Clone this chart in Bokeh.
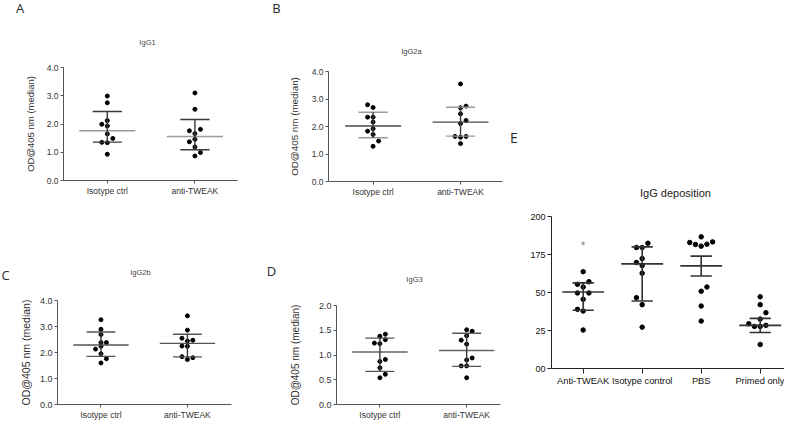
from bokeh.plotting import figure
from bokeh.layouts import row, column
from bokeh.models import Range1d, FixedTicker, Label, NumeralTickFormatter
from bokeh.core.properties import value
from bokeh.embed import file_html
from bokeh.resources import INLINE

# ------------------------------------------------------------------ data
groups_ad = ["Isotype ctrl", "anti-TWEAK"]
groups_e = ["Anti-TWEAK", "Isotype control", "PBS", "Primed only"]

# A  IgG1
igg1_iso = [2.99, 2.75, 2.12, 1.99, 1.93, 1.65, 1.49, 1.35, 1.34, 0.93]
igg1_anti = [3.10, 2.52, 1.76, 1.81, 1.66, 1.46, 1.37, 1.19, 0.99, 0.87]
igg1_center = [1.76, 1.56]
igg1_upper = [2.44, 2.16]
igg1_lower = [1.36, 1.09]
igg1_iso_cols = [0, 0, 0, -1, 0, 0, 1, -1, 0, 0]
igg1_anti_cols = [0, 0, -1, 1, 0, 0, -1, 0, 1, 0]

# B  IgG2a
igg2a_iso = [2.79, 2.69, 2.34, 2.34, 2.16, 1.92, 1.83, 1.71, 1.47, 1.28]
igg2a_anti = [3.55, 2.74, 2.68, 2.46, 2.22, 2.11, 1.64, 1.61, 1.64, 1.38]
igg2a_center = [2.02, 2.16]
igg2a_upper = [2.52, 2.70]
igg2a_lower = [1.59, 1.65]
igg2a_iso_cols = [-1, 0, -1, 0, 0, 0, -1, 0, 1, 0]
igg2a_anti_cols = [0, 1, 0, 0, 1, 0, -1, 0, 1, 0]

# C  IgG2b
igg2b_iso = [3.26, 2.89, 2.69, 2.38, 2.38, 2.24, 2.13, 1.95, 1.76, 1.60]
igg2b_anti = [3.41, 2.86, 2.55, 2.47, 2.44, 2.25, 2.24, 1.84, 1.80, 1.73]
igg2b_center = [2.29, 2.35]
igg2b_upper = [2.79, 2.70]
igg2b_lower = [1.85, 1.83]
igg2b_iso_cols = [0, 0, 0, 0, 1, 0, -1, 0, 1, 0]
igg2b_anti_cols = [0, 0, -1, 1, 0, -1, 0, -1, 1, 0]

# D  IgG3
igg3_iso = [1.42, 1.38, 1.31, 1.24, 1.23, 0.91, 0.87, 0.74, 0.61, 0.54]
igg3_anti = [1.51, 1.48, 1.39, 1.30, 1.22, 0.94, 0.90, 0.78, 0.78, 0.54]
igg3_center = [1.06, 1.09]
igg3_upper = [1.34, 1.44]
igg3_lower = [0.67, 0.77]
igg3_iso_cols = [1, 0, 1, -1, 0, 1, 0, 0, 1, 0]
igg3_anti_cols = [0, 1, 0, -1, 0, 1, 0, -1, 0, 0]

# E  IgG deposition
dep_anti = [163.7, 155.4, 157.1, 153.6, 149.7, 149.7, 145.5, 138.9, 137.8, 125.3]
dep_iso = [182.4, 179.6, 179.6, 172.3, 169.7, 167.7, 162.7, 146.6, 142.0, 127.2]
dep_pbs = [186.6, 182.9, 181.6, 180.5, 181.8, 183.3, 153.6, 150.8, 141.1, 131.2]
dep_primed = [147.2, 142.0, 136.7, 132.5, 129.4, 127.7, 127.7, 128.4, 115.8]
dep_center = [150.3, 168.8, 167.5, 128.4]
dep_upper = [156.3, 180.0, 173.9, 133.0]
dep_lower = [138.3, 144.4, 160.9, 123.7]
dep_anti_cols = [0, -1, 1, 0, -1, 1, 0, -1, 0, 0]
dep_iso_cols = [1, -1, 0, 0, -1, 0, 0, -1, 0, 0]
dep_pbs_cols = [0, -2, -1, 0, 1, 2, 1, 0, 0, 0]
dep_primed_cols = [0, 0, 1, 0, -2, -1, 0, 1, 0]
dep_sig_group = ["Anti-TWEAK"]
dep_sig_y = [180.7]
dep_sig_text = ["*"]

od_ticks_4 = [0, 1, 2, 3, 4]
od_ticks_2 = [0, 0.5, 1.0, 1.5, 2.0]
dep_tick_values = [100, 125, 150, 175, 200]
dep_tick_labels = ["00", "25", "50", "175", "200"]
y_title = "OD@405 nm (median)"
panel_titles = ["IgG1", "IgG2a", "IgG2b", "IgG3", "IgG deposition"]
panel_letters = ["A", "B", "C", "D", "E"]

# ------------------------------------------------------------------ style
SANS = "Liberation Sans"
LETTER = "Open Sans"


def build(cats, series, cols, center, upper, lower, yticks, geo, sty,
          ylabel_over=None, ylabel=None):
    p = figure(width=geo["w"], height=geo["h"],
               x_range=Range1d(*geo["xr"]), y_range=Range1d(*geo["yr"]),
               output_backend="svg", toolbar_location=None,
               min_border_left=geo["l"], min_border_right=geo["r"],
               min_border_top=geo["t"], min_border_bottom=geo["b"])
    p.title.visible = False
    p.outline_line_color = None
    p.grid.visible = False
    p.background_fill_color = "white"
    p.border_fill_color = "white"

    for ax in (p.xaxis[0], p.yaxis[0]):
        ax.axis_line_color = sty["axis"]
        ax.axis_line_width = 1
        ax.major_tick_line_color = sty["axis"]
        ax.major_tick_in = 0
        ax.minor_tick_line_color = None
        ax.major_label_text_color = sty["label"]
        ax.major_label_standoff = 2

    pos = [i + 1 for i in range(len(cats))]
    xax = p.xaxis[0]
    xax.ticker = FixedTicker(ticks=pos)
    xax.major_label_overrides = {q: c for q, c in zip(pos, cats)}
    xax.major_tick_out = sty["xtick"]
    xax.major_label_text_font = SANS
    xax.major_label_text_font_size = sty["xfs"]

    yax = p.yaxis[0]
    yax.ticker = FixedTicker(ticks=yticks)
    if ylabel_over is not None:
        yax.major_label_overrides = ylabel_over
    else:
        yax.formatter = NumeralTickFormatter(format="0.0")
    yax.major_tick_out = sty["ytick"]
    yax.major_label_text_font = SANS
    yax.major_label_text_font_size = sty["yfs"]
    if ylabel:
        yax.axis_label = ylabel
        yax.axis_label_text_font = SANS
        yax.axis_label_text_font_style = "normal"
        yax.axis_label_text_font_size = sty["alfs"]
        yax.axis_label_text_color = sty["label"]
        yax.axis_label_standoff = sty["alstand"]

    step = sty["step"]
    for g, vals, cc in zip(pos, series, cols):
        xs = [g + c * step for c in cc]
        p.scatter(xs, vals, size=sty["dot"], color="black")

    hw, cw = sty["hw"], sty["cw"]
    p.segment(x0=[g - hw for g in pos], x1=[g + hw for g in pos], y0=center, y1=center,
              line_color=sty["center"], line_width=sty["lw"])
    p.segment(x0=[g - cw for g in pos], x1=[g + cw for g in pos], y0=upper, y1=upper,
              line_color=sty["cap"], line_width=sty["lw"])
    p.segment(x0=[g - cw for g in pos], x1=[g + cw for g in pos], y0=lower, y1=lower,
              line_color=sty["cap"], line_width=sty["lw"])
    p.segment(x0=pos, x1=pos, y0=lower, y1=upper,
              line_color=sty["stem"], line_width=sty["lw"])
    return p


def header(x0, x1, y0, y1):
    # a strip above the panels that only carries the panel letters and titles
    h = figure(width=x1 - x0, height=y1 - y0, x_range=Range1d(x0, x1),
               y_range=Range1d(y1, y0), x_axis_type=None, y_axis_type=None,
               output_backend="svg", toolbar_location=None,
               min_border_left=0, min_border_right=0, min_border_top=0, min_border_bottom=0)
    h.title.visible = False
    h.outline_line_color = None
    h.background_fill_color = "white"
    h.border_fill_color = "white"
    return h


def put(h, x, y, text, font, size, color="#2a2a2a"):
    h.add_layout(Label(x=x, y=y, text=text, text_align="center", text_baseline="middle",
                       text_font=font, text_font_size=size, text_color=color))


base = dict(axis="#555555", label="#333333", xfs="8.5px", yfs="8.5px",
            xtick=3, ytick=3, alfs="9.5px", alstand=8, step=0.063, dot=4, lw=1.4,
            hw=0.32, cw=0.167, center="#9a9a9a", cap="#3a3a3a", stem="#3a3a3a")

# header strips
h1 = header(0, 505, 0, 58)
put(h1, 19.5, 7, panel_letters[0], LETTER, "13px")
put(h1, 147, 42, panel_titles[0], SANS, "7.5px", "#444")
put(h1, 276, 7.5, panel_letters[1], LETTER, "13px")
put(h1, 411, 51, panel_titles[1], SANS, "7.5px", "#444")

h2 = header(0, 505, 240, 288)
put(h2, 5, 274, panel_letters[2], LETTER, "13px")
put(h2, 140, 272, panel_titles[2], SANS, "7.5px", "#444")
put(h2, 271, 270, panel_letters[3], LETTER, "13px")
put(h2, 414, 279, panel_titles[3], SANS, "7.5px", "#444")

hE = header(505, 784, 0, 205)
put(hE, 513.5, 137, panel_letters[4], LETTER, "14px")
put(hE, 675, 192, panel_titles[4], SANS, "11px", "#222")

# A
pA = build(groups_ad, [igg1_iso, igg1_anti], [igg1_iso_cols, igg1_anti_cols],
           igg1_center, igg1_upper, igg1_lower, od_ticks_4,
           dict(w=255, h=182, l=63, r=18, t=9, b=60, xr=(0.5, 2.486), yr=(0, 4)),
           dict(base), ylabel=y_title)

# B
pB = build(groups_ad, [igg2a_iso, igg2a_anti], [igg2a_iso_cols, igg2a_anti_cols],
           igg2a_center, igg2a_upper, igg2a_lower, od_ticks_4,
           dict(w=250, h=182, l=73, r=3, t=13, b=59, xr=(0.49, 2.48), yr=(0, 4)),
           dict(base, alfs="9.8px", alstand=9, center="#4a4a4a", cap="#9a9a9a"),
           ylabel=y_title)

# C
pC = build(groups_ad, [igg2b_iso, igg2b_anti], [igg2b_iso_cols, igg2b_anti_cols],
           igg2b_center, igg2b_upper, igg2b_lower, od_ticks_4,
           dict(w=255, h=134, l=57, r=24, t=12, b=14, xr=(0.497, 2.51), yr=(0, 4)),
           dict(base, yfs="9px", alfs="10.5px", alstand=5, center="#555555", cap="#555555"),
           ylabel=y_title)

# D
pD = build(groups_ad, [igg3_iso, igg3_anti], [igg3_iso_cols, igg3_anti_cols],
           igg3_center, igg3_upper, igg3_lower, od_ticks_2,
           dict(w=250, h=134, l=81, r=5, t=17, b=14, xr=(0.5, 2.39), yr=(0, 2)),
           dict(base, yfs="9px", alfs="10px", alstand=15, center="#666666", cap="#555555"),
           ylabel=y_title)

# E
pE = build(groups_e, [dep_anti, dep_iso, dep_pbs, dep_primed],
           [dep_anti_cols, dep_iso_cols, dep_pbs_cols, dep_primed_cols],
           dep_center, dep_upper, dep_lower, dep_tick_values,
           dict(w=279, h=217, l=46, r=0, t=11, b=54, xr=(0.463, 4.412), yr=(100, 200)),
           dict(base, axis="#222222", label="#111111", xfs="9.3px", yfs="9px",
                xtick=5, ytick=4, step=0.097, dot=4.5, lw=1.6, hw=0.355, cw=0.18,
                center="#333333", cap="#333333", stem="#333333"),
           ylabel_over={v: t for v, t in zip(dep_tick_values, dep_tick_labels)})
sig_x = [groups_e.index(g) + 1 for g in dep_sig_group]
pE.text(x=sig_x, y=dep_sig_y, text=dep_sig_text, text_font=value(SANS),
        text_font_size="12px", text_align="center", text_baseline="middle",
        text_color="#888888")

# each plot wrapped on its own so that Bokeh does not align the plot frames
left = column(h1, row(column(pA), column(pB)), h2, row(column(pC), column(pD)))
right = column(hE, row(pE))
layout = row(left, right)

open("out.html", "w").write(file_html(layout, INLINE))
